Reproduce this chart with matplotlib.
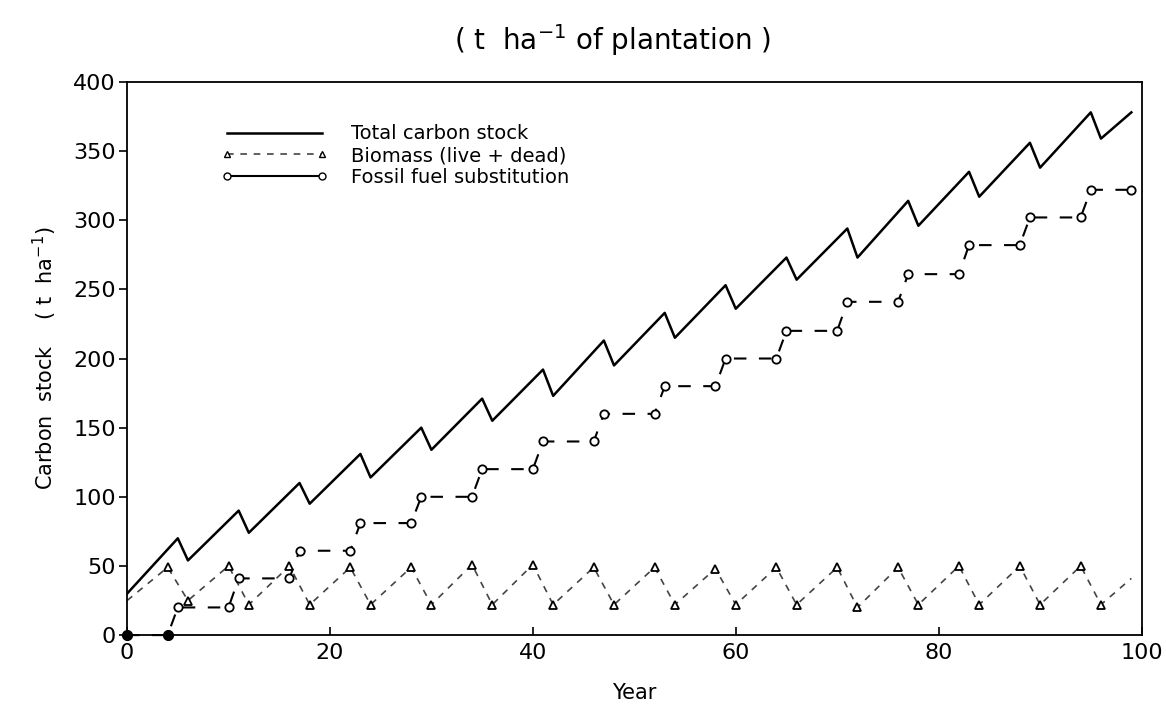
import numpy as np
import matplotlib.pyplot as plt
from matplotlib.lines import Line2D

plt.rcParams['font.family'] = ['DejaVu Sans']

# Total carbon stock (sawtooth: rise, then drop at each harvest)
total_years = [0, 5, 6, 11, 12, 17, 18, 23, 24, 29, 30, 35, 36, 41, 42, 47, 48,
               53, 54, 59, 60, 65, 66, 71, 72, 77, 78, 83, 84, 89, 90, 95, 96, 99]
total_vals = [30, 70, 54, 90, 74, 110, 95, 131, 114, 150, 134, 171, 155, 192, 173,
              213, 195, 233, 215, 253, 236, 273, 257, 294, 273, 314, 296, 335, 317,
              356, 338, 378, 359, 378]

# Biomass (live + dead)
bio_years = [0, 4, 6, 10, 12, 16, 18, 22, 24, 28, 30, 34, 36, 40, 42, 46, 48,
             52, 54, 58, 60, 64, 66, 70, 72, 76, 78, 82, 84, 88, 90, 94, 96, 99]
bio_vals = [25, 49, 25, 50, 22, 50, 22, 49, 22, 49, 22, 51, 22, 51, 22, 49, 22,
            49, 22, 48, 22, 49, 22, 49, 20, 49, 22, 50, 22, 50, 22, 50, 22, 41]

# Fossil fuel substitution (steps)
ff_years = [0, 4, 5, 10, 11, 16, 17, 22, 23, 28, 29, 34, 35, 40, 41, 46, 47, 52,
            53, 58, 59, 64, 65, 70, 71, 76, 77, 82, 83, 88, 89, 94, 95, 99]
ff_vals = [0, 0, 20, 20, 41, 41, 61, 61, 81, 81, 100, 100, 120, 120, 140, 140,
           160, 160, 180, 180, 200, 200, 220, 220, 241, 241, 261, 261, 282, 282,
           302, 302, 322, 322]

fig = plt.figure(figsize=(11.66, 7.25), dpi=100)
ax = fig.add_axes([0.109, 0.124, 0.87, 0.763])

ax.plot(total_years, total_vals, color='black', lw=1.8)

ax.plot(bio_years, bio_vals, color='#444444', lw=1.2, ls=(0, (4, 4)),
        marker='^', ms=6, mfc='white', mec='black', mew=1.3,
        markevery=list(range(1, len(bio_years) - 1)))

ax.plot(ff_years, ff_vals, color='black', lw=1.5, ls=(0, (6, 6)),
        marker='o', ms=6, mfc='white', mec='black', mew=1.3, clip_on=False)
ff_y = np.array(ff_years)
ff_v = np.array(ff_vals)
zero = ff_v == 0
ax.plot(ff_y[zero], ff_v[zero], ls='none', marker='o', ms=7, color='black',
        clip_on=False, zorder=5)

ax.set_xlim(0, 100)
ax.set_ylim(0, 400)
ax.set_xticks(np.arange(0, 101, 20))
ax.set_yticks(np.arange(0, 401, 50))
ax.tick_params(axis='y', direction='out', length=6, width=1.2, labelsize=16, pad=2)
ax.tick_params(axis='x', direction='in', length=6, width=1.2, labelsize=16, pad=6)
for s in ax.spines.values():
    s.set_linewidth(1.3)

ax.set_xlabel('Year', fontsize=15, labelpad=14)
ax.set_ylabel('Carbon  stock    ( t  ha$^{-1}$)', fontsize=15, labelpad=10)
fig.text(0.525, 0.945, '( t  ha$^{-1}$ of plantation )', fontsize=20,
         ha='center', va='center')

handles = [
    Line2D([], [], color='black', lw=1.8),
    Line2D([], [], color='#444444', lw=1.2, ls=(0, (4, 4)), marker='^', ms=5,
           mfc='white', mec='black'),
    Line2D([], [], color='black', lw=1.5, marker='o', ms=5, mfc='white', mec='black'),
]
labels = ['Total carbon stock', 'Biomass (live + dead)', 'Fossil fuel substitution']
ax.legend(handles, labels, loc='upper left', bbox_to_anchor=(0.075, 0.955),
          frameon=False, fontsize=14, handlelength=5.5, numpoints=2,
          labelspacing=0.15, handletextpad=1.2)

fig.savefig('out.png', dpi=100)
